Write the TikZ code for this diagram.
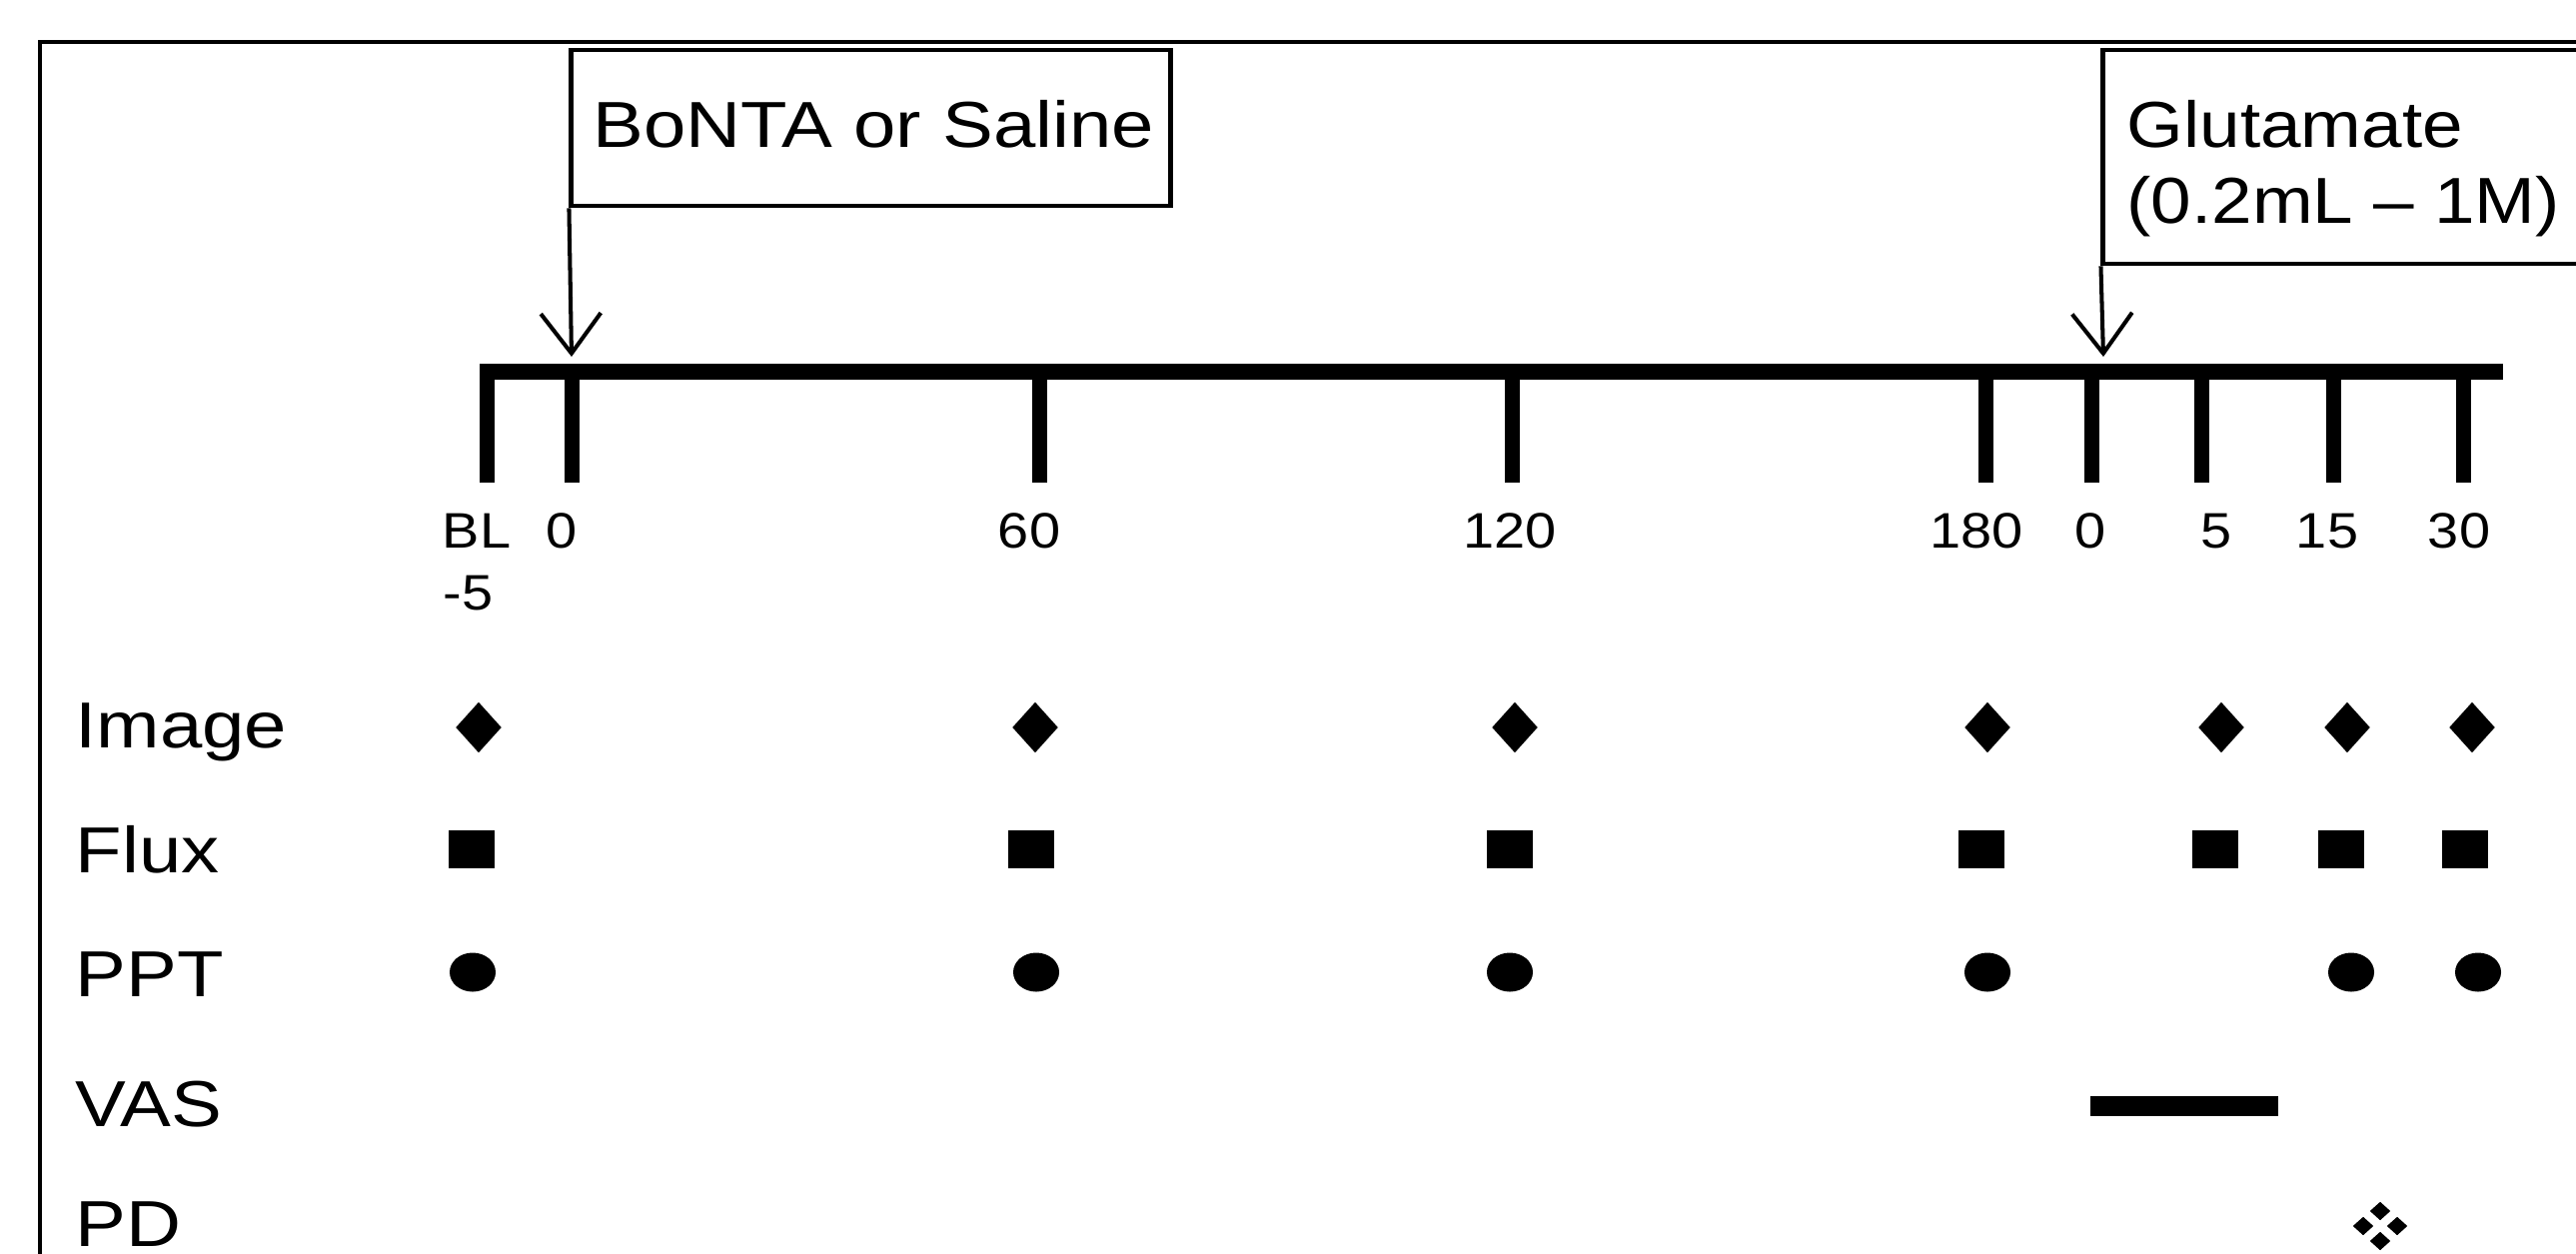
\documentclass[tikz,border=0pt]{standalone}
\usepackage{fontspec}
\setmainfont{Liberation Sans}[FakeStretch=1.12]
\newfontfamily\widefont{Liberation Sans}[FakeStretch=1.17]
\usetikzlibrary{arrows.meta,shapes.geometric}
\begin{document}
\begin{tikzpicture}[x=0.01cm,y=-0.01cm,
  frameline/.style={line width=1.2pt},
  boxframe/.style={draw, line width=1.35pt, inner sep=0pt, rectangle},
  arr/.style={line width=1.15pt, -{Straight Barb[length=0.4cm,width=0.6cm,line width=1.15pt]}},
  biglbl/.style={inner sep=0pt, anchor=base west, font=\fontsize{18.5}{21.6}\selectfont},
  widelbl/.style={inner sep=0pt, anchor=base west, font=\widefont\fontsize{18.5}{21.6}\selectfont},
  numlbl/.style={inner sep=0pt, anchor=base, font=\fontsize{14.2}{16}\selectfont},
  dmark/.style={diamond, fill, inner sep=0pt, minimum width=0.46cm, minimum height=0.51cm},
  smark/.style={rectangle, fill, inner sep=0pt, minimum width=0.46cm, minimum height=0.38cm},
  cmark/.style={ellipse, fill, inner sep=0pt, minimum width=0.46cm, minimum height=0.39cm}
]
\useasboundingbox (0,0) rectangle (2578,1254);
\clip (0,0) rectangle (2578,1254);
\fill[white] (0,0) rectangle (2578,1254);

% outer frame
\draw[frameline] (40,1300) -- (40,42) -- (2650,42);

% BoNTA box
\node[boxframe, minimum width=5.99cm, minimum height=1.56cm] (bbox) at (871.5,128) {};
\node[widelbl] (btxt) at (593,147) {BoNTA or Saline};

% Glutamate box
\node[boxframe, minimum width=5.45cm, minimum height=2.14cm] (gbox) at (2377.5,157) {};
\node[biglbl] (g1) at (2128,147) {Glutamate};
\node[biglbl] (g2) at (2128,223) {(0.2mL – 1M)};

% timeline
\fill (480,364) rectangle (2505,380);
\foreach \x in {487,572,1040,1513,1987,2093,2203,2335,2465}
  \fill (\x-7.5,372) rectangle (\x+7.5,483);

% arrows
\coordinate (tipA) at (572,357);
\coordinate (tipB) at (2105,357);
\draw[arr] (bbox.south west) -- (tipA);
\draw[arr] (gbox.south west) -- (tipB);

% tick labels
\node[numlbl, anchor=base west] (tBL) at (442,548) {BL};
\node[numlbl, anchor=base west] (tm5) at (443,610) {-5};
\node[numlbl] (t0) at (562,548) {0};
\node[numlbl] (t60) at (1030,548) {60};
\node[numlbl] (t120) at (1511,548) {120};
\node[numlbl] (t180) at (1978,548) {180};
\node[numlbl] (t0b) at (2092,548) {0};
\node[numlbl] (t5) at (2218,548) {5};
\node[numlbl] (t15) at (2329,548) {15};
\node[numlbl] (t30) at (2461,548) {30};

% row labels
\node[widelbl] (rImage) at (75,748) {Image};
\node[widelbl] (rFlux) at (75,873) {Flux};
\node[widelbl] (rPPT) at (75,997) {PPT};
\node[widelbl] (rVAS) at (75,1127) {VAS};
\node[widelbl] (rPD) at (75,1247) {PD};

% Image row
\foreach \x [count=\i] in {479,1036,1516,1989,2223,2349,2474}
  \node[dmark] (img\i) at (\x,728) {};
% Flux row
\foreach \x [count=\i] in {472,1032,1511,1983,2217,2343,2467}
  \node[smark] (flx\i) at (\x,850) {};
% PPT row
\foreach \x [count=\i] in {473,1037,1511,1989,2353,2480}
  \node[cmark] (ppt\i) at (\x,973) {};
% VAS bar
\fill (2092,1097) rectangle (2280,1117);
% PD symbol
\foreach \dx/\dy [count=\i] in {0/-15,0/15,-17/0,17/0}
  \node[dmark, minimum width=0.21cm, minimum height=0.19cm] (pd\i) at (2382+\dx,1227+\dy) {};
\end{tikzpicture}
\end{document}
